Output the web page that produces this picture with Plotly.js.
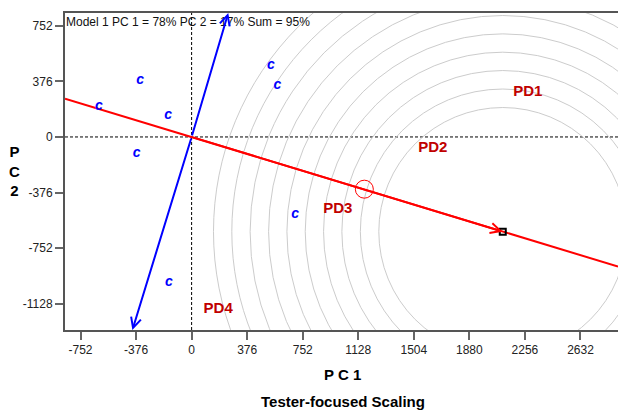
<!DOCTYPE html>
<html>
<head>
<meta charset="utf-8">
<script src="https://cdn.plot.ly/plotly-3.0.1.min.js"></script>
<style>html,body{margin:0;padding:0;background:#fff;}#chart{width:618px;height:410px;}</style>
</head>
<body>
<div id="chart"></div>
<script>
// ---- data ----
const xTicks = [-752, -376, 0, 376, 752, 1128, 1504, 1880, 2256, 2632];
const yTicks = [752, 376, 0, -376, -752, -1128];
const xRange = [-857, 2886];
const yRange = [-1305, 838];

const cX = [-627, -349, -158, 537, 580, -372, 700, -153];
const cY = [206, 380, 146, 482, 349, -114, -521, -982];
const cLabels = ['c', 'c', 'c', 'c', 'c', 'c', 'c', 'c'];

const pdNames = ['PD1', 'PD2', 'PD3', 'PD4'];
const pdX = [2275, 1632, 989, 180];
const pdY = [305, -75, -488, -1162];

const idealX = [2106];
const idealY = [-640];
const markX = [1169];
const markY = [-353];
const ringRadii = [839, 964, 1089, 1213, 1337, 1461, 1585, 1710, 1834, 1958];

const atcLineX = [-857, 2886];
const atcLineY = [259, -876];
const ordinateX = [248, -401];
const ordinateY = [838, -1305];

const headerText = 'Model 1 PC 1 = 78% PC 2 = 17% Sum = 95%';
const xTitle = 'P C 1';
const yTitle = 'P<br>C<br>2';
const subTitle = 'Tester-focused Scaling';

// ---- drawing ----
const FONT = 'Liberation Sans, Arial, sans-serif';
const traces = [
  {x: atcLineX, y: atcLineY, type: 'scatter', mode: 'lines',
   line: {color: '#ff0000', width: 2}, hoverinfo: 'skip'},
  {x: cX, y: cY, text: cLabels, type: 'scatter', mode: 'text',
   textposition: 'middle center',
   textfont: {family: FONT, size: 14, color: '#0000ff', weight: 'bold', style: 'italic'}},
  {x: pdX, y: pdY, text: pdNames, type: 'scatter', mode: 'text',
   textposition: 'middle center',
   textfont: {family: FONT, size: 15, color: '#c00000', weight: 'bold'}},
  {x: markX, y: markY, type: 'scatter', mode: 'markers',
   marker: {symbol: 'circle-open', size: 18, color: '#ff0000', line: {width: 1, color: '#ff0000'}}},
  {x: idealX, y: idealY, type: 'scatter', mode: 'markers',
   marker: {symbol: 'square-open', size: 6, color: '#000', line: {width: 2, color: '#000'}}}
];

const shapes = ringRadii.map(r => ({
  type: 'circle', xref: 'x', yref: 'y', layer: 'below',
  x0: idealX[0] - r, x1: idealX[0] + r, y0: idealY[0] - r, y1: idealY[0] + r,
  line: {color: '#cccccc', width: 1}
}));
shapes.push({type: 'line', xref: 'x', yref: 'paper', x0: 0, x1: 0, y0: 0, y1: 1, layer: 'below',
  line: {color: '#000', width: 1, dash: '3px,2px'}});
shapes.push({type: 'line', xref: 'paper', yref: 'y', x0: 0, x1: 1, y0: 0, y1: 0, layer: 'below',
  line: {color: '#000', width: 1, dash: '3px,2px'}});

const annotations = [
  {xref: 'paper', yref: 'paper', x: 0, y: 1, xanchor: 'left', yanchor: 'top', xshift: -1, yshift: 0,
   text: headerText, showarrow: false, font: {family: FONT, size: 12, color: '#111'}},
  {xref: 'paper', yref: 'paper', x: 0.5027, y: -0.139, xanchor: 'center', yanchor: 'middle',
   text: xTitle, showarrow: false, font: {family: FONT, size: 15, color: '#000', weight: 'bold'}},
  {xref: 'paper', yref: 'paper', x: 0.5027, y: -0.224, xanchor: 'center', yanchor: 'middle',
   text: subTitle, showarrow: false, font: {family: FONT, size: 15, color: '#000', weight: 'bold'}},
  {xref: 'paper', yref: 'paper', x: -0.092, y: 0.503, xanchor: 'center', yanchor: 'middle',
   text: yTitle, showarrow: false, font: {family: FONT, size: 15, color: '#000', weight: 'bold'}},
  {xref: 'x', yref: 'y', x: idealX[0], y: idealY[0], axref: 'x', ayref: 'y', ax: 0, ay: 0,
   text: '', showarrow: true, arrowhead: 5, arrowsize: 1, arrowwidth: 2, arrowcolor: '#ff0000'}
];
ordinateX.forEach((vx, i) => annotations.push({
  xref: 'x', yref: 'y', x: vx, y: ordinateY[i], axref: 'x', ayref: 'y', ax: 0, ay: 0,
  text: '', showarrow: true, arrowhead: 5, arrowsize: 1, arrowwidth: 2, arrowcolor: '#0000ff'
}));

const axisCommon = {
  showgrid: false, zeroline: false, showline: true, linecolor: '#555', linewidth: 2,
  ticks: 'outside', ticklen: 8, tickwidth: 2, tickcolor: '#666',
  tickfont: {family: FONT, size: 12, color: '#222'}, tickmode: 'array'
};

const layout = {
  width: 618, height: 410,
  margin: {l: 65, r: 0, t: 13, b: 80, pad: 0},
  paper_bgcolor: '#fff', plot_bgcolor: '#fff',
  showlegend: false,
  xaxis: Object.assign({}, axisCommon, {range: xRange, tickvals: xTicks, ticktext: xTicks.map(String), mirror: true}),
  yaxis: Object.assign({}, axisCommon, {range: yRange, tickvals: yTicks, ticktext: yTicks.map(String)}),
  shapes: shapes,
  annotations: annotations,
  hovermode: false
};

Plotly.newPlot('chart', traces, layout, {staticPlot: true, displayModeBar: false});
</script>
</body>
</html>
